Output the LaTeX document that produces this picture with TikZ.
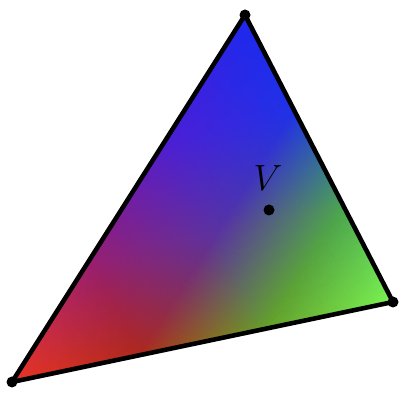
\documentclass[tikz,border=0pt]{standalone}
\usepackage{pgfplots}
\pgfplotsset{compat=1.18}

% sampled face colours (corners, thirds of the edges, centre)
\definecolor{cA}{RGB}{232,52,38}
\definecolor{cB}{RGB}{28,40,238}
\definecolor{cC}{RGB}{122,244,82}
\definecolor{cAAB}{RGB}{150,30,115}
\definecolor{cABB}{RGB}{75,30,215}
\definecolor{cBBC}{RGB}{30,50,232}
\definecolor{cBCC}{RGB}{75,165,80}
\definecolor{cACC}{RGB}{100,160,42}
\definecolor{cAAC}{RGB}{175,40,28}
\definecolor{cABC}{RGB}{90,50,160}

\begin{document}
\begin{tikzpicture}[
    edge/.style={line width=2.6pt, line join=round},
    vertex/.style={circle, fill=black, inner sep=0pt, minimum size=0.22cm},
    lbl/.style={font=\fontsize{20}{24}\selectfont, inner sep=0pt}
]

% Gouraud shaded face, split in nine
\begin{axis}[hide axis, anchor=origin, at={(0,0)}, x=1cm, y=1cm,
    xmin=0, xmax=8.04, ymin=0, ymax=8.14, disabledatascaling, clip=false]
\addplot[patch, shader=interp, mesh/color input=explicit] coordinates {
    (0.24,0.50) [color=cA]   (2.78,1.034) [color=cAAC] (1.794,2.946) [color=cAAB]
    (2.78,1.034) [color=cAAC] (5.32,1.566) [color=cACC] (4.334,3.48) [color=cABC]
    (5.32,1.566) [color=cACC] (7.86,2.10) [color=cC]   (6.874,4.014) [color=cBCC]
    (2.78,1.034) [color=cAAC] (4.334,3.48) [color=cABC] (1.794,2.946) [color=cAAB]
    (5.32,1.566) [color=cACC] (6.874,4.014) [color=cBCC] (4.334,3.48) [color=cABC]
    (1.794,2.946) [color=cAAB] (4.334,3.48) [color=cABC] (3.346,5.394) [color=cABB]
    (4.334,3.48) [color=cABC] (6.874,4.014) [color=cBCC] (5.886,5.926) [color=cBBC]
    (4.334,3.48) [color=cABC] (5.886,5.926) [color=cBBC] (3.346,5.394) [color=cABB]
    (3.346,5.394) [color=cABB] (5.886,5.926) [color=cBBC] (4.90,7.84) [color=cB]
};
\end{axis}

% corners
\node[vertex] (vred) at (0.24,0.50) {};
\node[vertex] (vblue) at (4.90,7.84) {};
\node[vertex] (vgreen) at (7.86,2.10) {};
\draw[edge] (vred.center) -- (vblue.center) -- (vgreen.center) -- cycle;

% the point V
\node[vertex] (pv) at (5.38,3.94) {};
\node[lbl] (vlabel) at (5.36,4.58) {$V$};

\pgfresetboundingbox
\useasboundingbox (0,0) rectangle (8.04,8.14);
\end{tikzpicture}
\end{document}
